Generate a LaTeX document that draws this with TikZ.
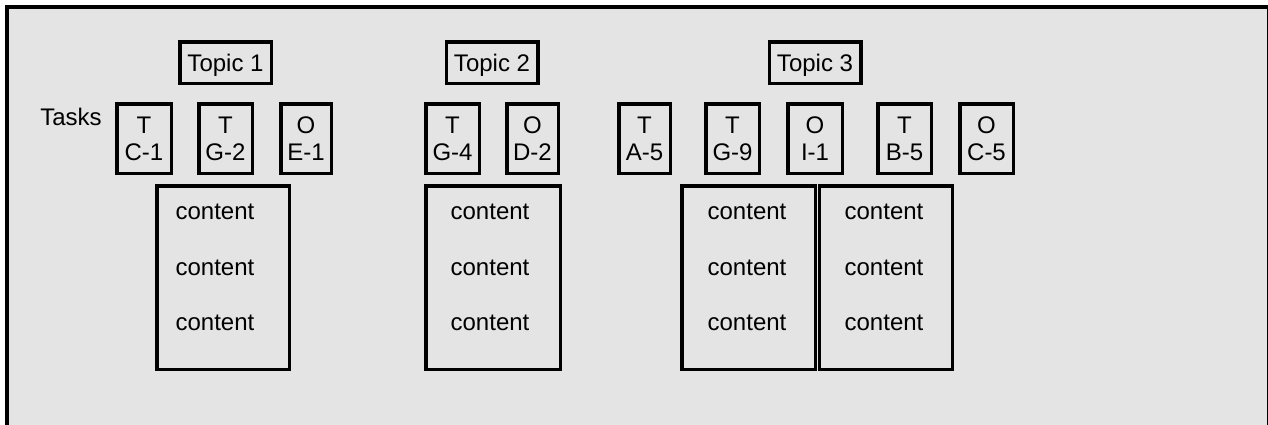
\documentclass[tikz,border=0pt]{standalone}
\usepackage{fontspec}
\setmainfont{Liberation Sans}
\newcommand\tfont{\fontsize{24}{27}\selectfont}
\definecolor{bgray}{RGB}{228,228,228}
\tikzset{
  bx/.style={draw=black, line width=3.5pt, inner sep=0pt, font=\tfont},
  topicbox/.style={bx, minimum width=91.5pt, minimum height=41.5pt, text height=17.2pt, text depth=0pt},
  taskbox/.style={bx, minimum height=69.5pt, align=center},
  contentbox/.style={bx, minimum height=183.5pt},
  ctext/.style={font=\tfont, anchor=base, inner sep=0pt},
}
\begin{document}
\begin{tikzpicture}[x=1pt,y=-1pt]
\useasboundingbox (0,0) rectangle (1268,424);
\begin{scope}
\clip (0,0) rectangle (1268,424);
\fill[bgray] (7,7) rectangle (1267,440);
\draw[line width=4pt] (7,440) -- (7,7) -- (1268,7);
\draw[line width=1pt] (1267.5,7) -- (1267.5,440);
\end{scope}

% topics
\node[topicbox] (t1) at (225.5,62.5) {Topic 1};
\node[topicbox] (t2) at (492,62.5) {Topic 2};
\node[topicbox] (t3) at (815,62.5) {Topic 3};

% tasks label
\node[ctext] (tasks) at (71,125) {Tasks};

% task boxes
\node[taskbox, minimum width=54.5pt] (c1) at (144,138.5) {T\\C-1};
\node[taskbox, minimum width=53.5pt] (g2) at (225.5,138.5) {T\\G-2};
\node[taskbox, minimum width=50.5pt] (e1) at (306,138.5) {O\\E-1};
\node[taskbox, minimum width=53.5pt] (g4) at (452.5,138.5) {T\\G-4};
\node[taskbox, minimum width=51.5pt] (d2) at (532.5,138.5) {O\\D-2};
\node[taskbox, minimum width=51.5pt] (a5) at (644.5,138.5) {T\\A-5};
\node[taskbox, minimum width=53.5pt] (g9) at (732.5,138.5) {T\\G-9};
\node[taskbox, minimum width=54.5pt] (i1) at (815,138.5) {O\\I-1};
\node[taskbox, minimum width=53.5pt] (b5) at (904.5,138.5) {T\\B-5};
\node[taskbox, minimum width=53.5pt] (c5) at (986.5,138.5) {O\\C-5};

% content boxes
\node[contentbox, minimum width=132.5pt] (k1) at (223,277.5) {};
\node[contentbox, minimum width=134.5pt] (k2) at (493,277.5) {};
\node[contentbox, minimum width=133.5pt] (k3) at (748.5,277.5) {};
\node[contentbox, minimum width=133pt] (k4) at (886,277.5) {};

\foreach \n/\x in {1/215,2/490,3/747,4/884}{
  \node[ctext] (k\n a) at (\x,219) {content};
  \node[ctext] (k\n b) at (\x,275) {content};
  \node[ctext] (k\n c) at (\x,330) {content};
}
\end{tikzpicture}
\end{document}
